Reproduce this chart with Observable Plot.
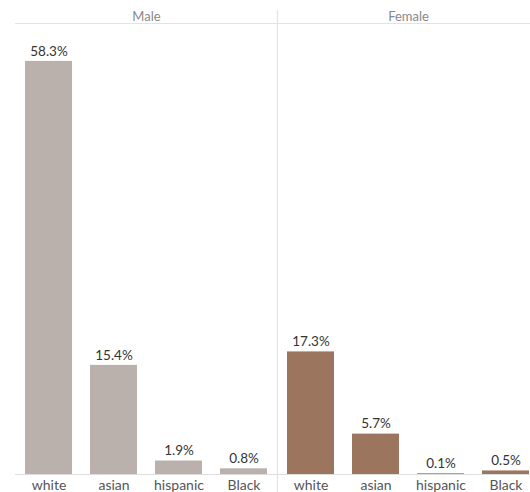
<!DOCTYPE html>
<html>
<head>
<meta charset="utf-8">
<script src="https://cdn.jsdelivr.net/npm/d3@7"></script>
<script src="https://cdn.jsdelivr.net/npm/@observablehq/plot@0.6"></script>
<style>
  html, body { margin: 0; padding: 0; background: #fff; overflow: hidden; }
  svg { overflow: hidden; }
</style>
</head>
<body>
<div id="chart"></div>
<script>
const genders = ["Male", "Female"];
const races = ["white", "asian", "hispanic", "Black"];
const maleShare = [58.3, 15.4, 1.9, 0.8];
const femaleShare = [17.3, 5.7, 0.1, 0.5];
const genderColors = ["#bab0ac", "#9c755f"];

const data = [];
races.forEach((r, i) => data.push({gender: "Male", race: r, value: maleShare[i]}));
races.forEach((r, i) => data.push({gender: "Female", race: r, value: femaleShare[i]}));

const chart = Plot.plot({
  width: 530,
  height: 492,
  marginTop: 23,
  marginBottom: 18,
  marginLeft: 15,
  marginRight: -9,
  style: {fontFamily: "Lato, sans-serif", fontSize: "13.5px", background: "#fff"},
  fx: {domain: genders, padding: 0, label: null},
  x: {domain: races, paddingInner: 0.27, paddingOuter: 0.12, label: null},
  y: {domain: [0, 63.65], axis: null},
  color: {domain: genders, range: genderColors},
  marks: [
    Plot.frame({anchor: "top", stroke: "#e3e3e3", strokeWidth: 1.2}),
    Plot.frame({anchor: "right", stroke: "#e3e3e3", strokeWidth: 1.2, insetTop: -13, insetBottom: -18}),
    Plot.barY(data, {fx: "gender", x: "race", y: "value", fill: "gender"}),
    Plot.ruleY([0], {stroke: "#dddddd", strokeWidth: 1.2}),
    Plot.text(data, {fx: "gender", x: "race", y: "value", text: d => d.value.toFixed(1) + "%", dy: -10, fill: "#333", fontSize: 13.5}),
    Plot.axisX({tickSize: 0, tickPadding: 6, fill: "#555", fontSize: 14, label: null}),
    Plot.axisFx({anchor: "top", tickSize: 0, tickPadding: 3, fill: "#888", fontSize: 13, label: null})
  ]
});
document.getElementById("chart").appendChild(chart);
</script>
</body>
</html>
